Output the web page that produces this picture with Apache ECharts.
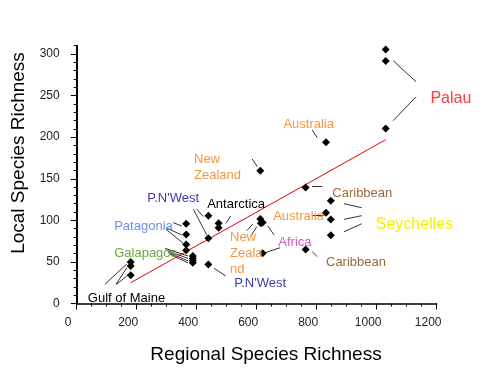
<!DOCTYPE html>
<html><head><meta charset="utf-8">
<script src="https://cdn.jsdelivr.net/npm/echarts@6/dist/echarts.min.js"></script>
<style>html,body{margin:0;padding:0;background:#fff}#c{width:484px;height:372px}</style>
</head><body><div id="c"></div>
<script>
// ---- data ----
const regionalRichness = [180,180,180, 365,365,365,365, 387,387,387,387, 439,439,439, 473,473,
  612, 612,614,620, 620, 763,763, 831,831, 847,847,847, 1030,1030,1030];
const localRichness    = [50,45,34, 96,83,71,64, 57,54,51.5,49, 105.5,78.5,47, 96.5,91,
  159.5, 101.5,96.5,97.5, 60.5, 139.5,65, 194,109, 123.5,101,82, 305.5,291.5,210.5];
const fitX = [180, 1030];
const fitY = [25, 197];
const xTicks = [0, 200, 400, 600, 800, 1000, 1200];
const yTicks = [0, 50, 100, 150, 200, 250, 300];

// region labels (text, colour, font size)
const labelTexts  = ['Palau','Australia','New\nZealand','Caribbean','Seychelles','Australia','Antarctica',
  'New\nZeala\nnd','Africa','Caribbean',"P.N'West","P.N'West",'Patagonia','Galapagos','Gulf of Maine'];
const labelColors = ['#ff3b3b','#f7963f','#f7963f','#9a6a3c','#f2f200','#f7963f','#000000',
  '#f7963f','#d957c6','#9a6a3c','#3c3ca8','#3c3ca8','#6a90ee','#6aa83a','#000000'];
const labelSizes  = [16,13,13,13,16,13,13,13,13,13,13,13,13,13,13];
// label anchors (left edge, middle) in data units
const labelX = [1179, 689, 391, 852, 997, 655, 435, 511, 672, 831, 525, 235, 125, 125, 37];
const labelY = [246, 215.5, 164, 132.5, 95, 104.4, 119.3, 60.7, 73, 49.5, 24.6, 126.2, 93.2, 60.4, 5.8];
// leader segments in data units: [x1, y1, x2, y2]
const leaders = [
  [1055,292,1131,266.7],[1055,219.8,1131,248.6],
  [785,208.6,802,199.4],
  [585,173.7,602,164.5],
  [785,140.9,819,140.9],
  [891,120,950,115.2],[891,101.2,950,105.6],[891,86.3,950,95.9],
  [787,106.4,824,106.4],
  [498,96.4,513,105.2],
  [567,87.5,587,95.6],[583,82.4,600,92.3],
  [637,93.2,658,82.4],[628,61.1,678,67.1],
  [785,62.3,802,56.3],
  [458,42.3,497,33.1],
  [389,113.5,433,82.6],[400,113.5,422,104.6],
  [322,97.2,350,93.2],[298,91.1,350,82.4],[298,89.2,355,72.4],
  [294,66.4,371,57.1],[298,64.3,371,54.1],[304,61.9,371,51.1],[311,59.5,371,48.7],
  [94,23.1,167,47.5],[131,23.1,167,43],[133,23.1,167,33.1]
];

const FONT = '"Liberation Sans", Arial, sans-serif';
const chart = echarts.init(document.getElementById('c'));
const points = regionalRichness.map((x, i) => [x, localRichness[i]]);
const labelData = labelTexts.map((t, i) => ({
  value: [labelX[i], labelY[i]],
  label: { show: true, formatter: t, color: labelColors[i], fontSize: labelSizes[i],
           fontFamily: FONT, position: 'right', distance: 0, lineHeight: 16, opacity: 1 }
}));
const leaderData = leaders.map(s => ({ coords: [[s[0], s[1]], [s[2], s[3]]] }));

chart.setOption({
  animation: false,
  grid: { left: 76.7, right: 47.3, top: 45.7, bottom: 68.5 },
  xAxis: {
    type: 'value', min: 0, max: 1200, interval: 200,
    axisLine: { show: true, onZero: false, lineStyle: { color: '#000', width: 1.5 } },
    axisTick: { show: true, length: 6, lineStyle: { color: '#000' } },
    minorTick: { show: true, splitNumber: 4, length: 3, lineStyle: { color: '#000' } },
    splitLine: { show: false },
    axisLabel: { customValues: xTicks, formatter: v => String(v), color: '#222', fontSize: 12,
                 fontFamily: FONT, margin: 13, padding: [0, 17, 0, 0] }
  },
  yAxis: [{
    type: 'value', min: 0, max: 310, interval: 50,
    axisLine: { show: true, onZero: false, lineStyle: { color: '#000', width: 2 } },
    axisTick: { show: true, length: 6, customValues: yTicks, lineStyle: { color: '#000' } },
    splitLine: { show: false },
    axisLabel: { customValues: yTicks, formatter: v => String(v), color: '#222', fontSize: 12,
                 fontFamily: FONT, margin: 17 }
  }, {
    type: 'value', min: 0, max: 310, interval: 10, position: 'left',
    axisLine: { show: false }, axisLabel: { show: false }, splitLine: { show: false },
    axisTick: { show: true, length: 3, lineStyle: { color: '#000' } }
  }],
  graphic: [
    { type: 'text', x: 266, y: 355, style: { text: 'Regional Species Richness', font: '19px ' + FONT,
      fill: '#000', align: 'center', verticalAlign: 'middle', textAlign: 'center', textVerticalAlign: 'middle' } },
    { type: 'text', x: 19, y: 153, rotation: Math.PI / 2, style: { text: 'Local Species Richness', font: '19px ' + FONT,
      fill: '#000', align: 'center', verticalAlign: 'middle', textAlign: 'center', textVerticalAlign: 'middle' } }
  ],
  series: [
    { type: 'line', data: fitX.map((x, i) => [x, fitY[i]]), symbol: 'none',
      lineStyle: { color: '#e00000', width: 1 }, z: 2 },
    { type: 'lines', coordinateSystem: 'cartesian2d', data: leaderData,
      lineStyle: { color: '#333333', width: 1, opacity: 1 }, z: 2 },
    { type: 'scatter', data: points, symbol: 'diamond', symbolSize: 8,
      itemStyle: { color: '#000', opacity: 1 }, z: 3 },
    { type: 'scatter', data: labelData, symbolSize: 0, itemStyle: { opacity: 1 }, z: 4 }
  ]
});
</script></body></html>
